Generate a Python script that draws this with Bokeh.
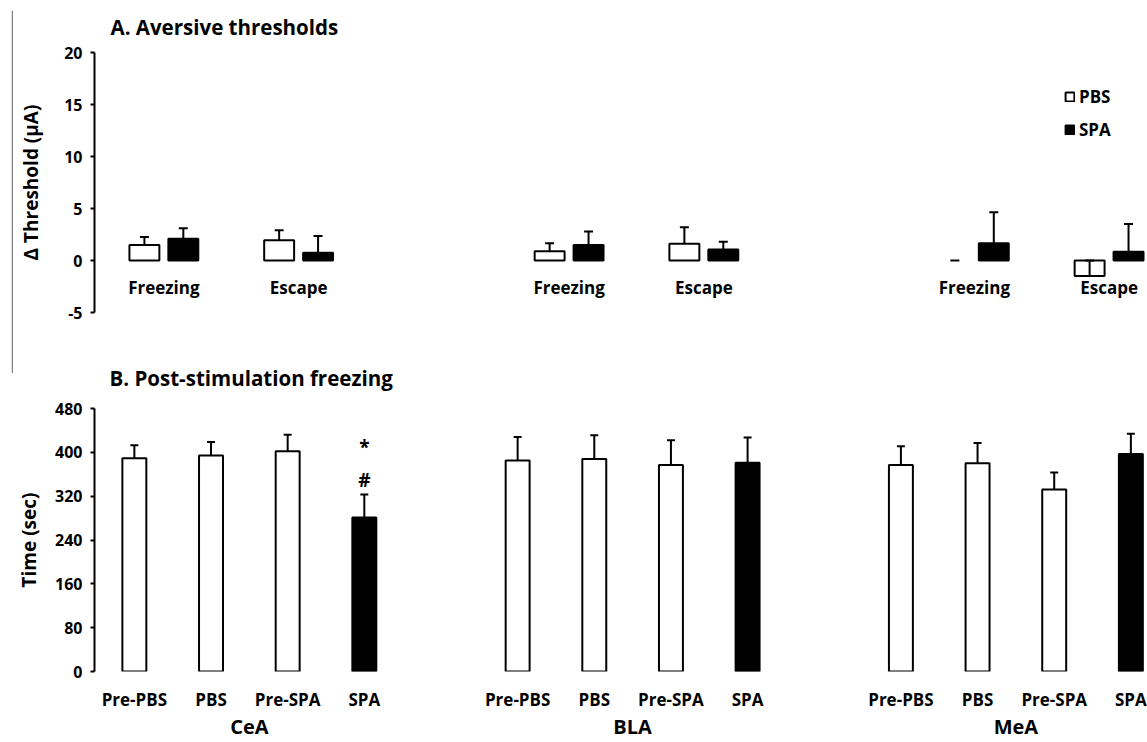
from bokeh.plotting import figure
from bokeh.models import (ColumnDataSource, Range1d, FixedTicker, Legend, LegendItem,
                          LinearAxis, Span)
from bokeh.layouts import column, row
from bokeh.core.properties import value
from bokeh.embed import file_html
from bokeh.resources import INLINE

# ---------------- data: panel A (aversive thresholds) ----------------
regions = ["CeA", "BLA", "MeA"]
measures = ["Freezing", "Escape"]
treatments = ["PBS", "SPA"]
# one row per region: [Freezing, Escape]
thr_pbs_mean = [[1.5, 1.95], [0.9, 1.6], [0.0, -1.5]]
thr_pbs_sem = [[0.75, 0.95], [0.75, 1.6], [0.0, 1.5]]
thr_spa_mean = [[2.1, 0.75], [1.5, 1.05], [1.65, 0.85]]
thr_spa_sem = [[1.0, 1.6], [1.3, 0.75], [3.0, 2.65]]
thr_ticks = [-5, 0, 5, 10, 15, 20]

# ---------------- data: panel B (post-stimulation freezing) ----------------
conditions = ["Pre-PBS", "PBS", "Pre-SPA", "SPA"]
frz_cea_mean = [389, 394, 402, 281]
frz_cea_sem = [24, 25, 30, 42]
frz_bla_mean = [385, 388, 377, 381]
frz_bla_sem = [43, 43, 45, 46]
frz_mea_mean = [377, 380, 332, 397]
frz_mea_sem = [34, 37, 31, 37]
time_ticks = [0, 80, 160, 240, 320, 400, 480]
sig_marks = ["#", "*"]          # drawn above CeA / SPA

title_a = "A. Aversive thresholds"
title_b = "B. Post-stimulation freezing"

# ---------------- layout / style constants ----------------
FONT = "Open Sans"
SPACER_W, SPACER_H, SPACER_TOP = 13, 373, 10
W = 1134
H_A, H_B = 346, 396
FRAME_LEFT = 79              # both panels share the same aligned frame edge

A_TOP, A_FRAME_H = 52, 260
A_BOTTOM = H_A - A_TOP - A_FRAME_H
STEP_REGION, STEP_MEASURE, STEP_TREAT = 406, 135, 39
A_X0 = -50
BAR_W_A, CAP_W_A = 30, 9
LABEL_Y_A = -2.6

B_TOP, B_FRAME_H = 62, 263
B_BOTTOM = H_B - B_TOP - B_FRAME_H
PX_PER_SLOT = 76.8
SLOTS_PER_REGION = 5
B_X0 = -0.52
BAR_W_B = 24 / PX_PER_SLOT
CAP_W_B = 8 / PX_PER_SLOT
SIG_OFFSETS = [26, 86]
FILL = {"PBS": "white", "SPA": "black", "Pre-PBS": "white", "Pre-SPA": "white"}


def style_axis(ax, tick_size):
    ax.axis_line_width = 2
    ax.axis_line_color = "black"
    ax.major_tick_line_width = 2
    ax.major_tick_line_color = "black"
    ax.major_tick_in = 0
    ax.major_tick_out = 4
    ax.minor_tick_line_color = None
    ax.major_label_text_font = FONT
    ax.major_label_text_font_style = "bold"
    ax.major_label_text_font_size = tick_size
    ax.major_label_text_color = "black"
    ax.axis_label_text_font = FONT
    ax.axis_label_text_font_style = "bold"
    ax.axis_label_text_font_size = "19px"
    ax.axis_label_text_color = "black"


def style_title(t, offset, standoff):
    t.text_font = FONT
    t.text_font_style = "bold"
    t.text_font_size = "20.5px"
    t.text_color = "black"
    t.align = "left"
    t.vertical_align = "middle"
    t.offset = offset
    t.standoff = standoff


# ======================= left border line =======================
spacer = figure(width=SPACER_W, height=SPACER_H, output_backend="svg", toolbar_location=None,
                x_range=Range1d(0, SPACER_W), y_range=Range1d(0, 1),
                min_border_left=0, min_border_right=0,
                min_border_top=SPACER_TOP, min_border_bottom=0)
spacer.axis.visible = False
spacer.grid.visible = False
spacer.outline_line_color = None
spacer.add_layout(Span(location=SPACER_W - 1, dimension="height",
                       line_color="#808080", line_width=1.5))

# ======================= Panel A =======================
pA = figure(width=W, height=H_A, output_backend="svg", toolbar_location=None,
            title=title_a,
            x_range=Range1d(A_X0, A_X0 + W - FRAME_LEFT), y_range=Range1d(-5, 20),
            min_border_left=FRAME_LEFT, min_border_top=A_TOP,
            min_border_bottom=A_BOTTOM, min_border_right=0)
style_title(pA.title, 16, 22)
pA.outline_line_color = None
pA.grid.visible = False
pA.xaxis.visible = False
style_axis(pA.yaxis[0], "16px")
pA.yaxis.ticker = FixedTicker(ticks=thr_ticks)
pA.yaxis.major_label_overrides = {t: str(t) for t in thr_ticks}
pA.yaxis.major_label_standoff = 8
pA.yaxis.axis_label = "Δ Threshold (μA)"
pA.yaxis.axis_label_standoff = 17

renderers_A = {}
err_x, err_lo, err_hi = [], [], []
for ti, (t, means, sems) in enumerate([("PBS", thr_pbs_mean, thr_pbs_sem),
                                        ("SPA", thr_spa_mean, thr_spa_sem)]):
    bx, btop = [], []
    for g, _ in enumerate(regions):
        for m, _ in enumerate(measures):
            x = g * STEP_REGION + m * STEP_MEASURE + ti * STEP_TREAT
            mu, se = means[g][m], sems[g][m]
            if mu != 0:
                bx.append(x)
                btop.append(mu)
            err_x.append(x)
            err_lo.append(mu)
            err_hi.append(mu + se)
    src = ColumnDataSource(dict(x=bx, top=btop))
    renderers_A[t] = pA.vbar(x="x", top="top", bottom=0, width=BAR_W_A, source=src,
                             fill_color=FILL[t], line_color="black", line_width=2)

errA = ColumnDataSource(dict(x=err_x, lo=err_lo, hi=err_hi,
                             cl=[x - CAP_W_A / 2 for x in err_x],
                             cr=[x + CAP_W_A / 2 for x in err_x]))
pA.segment(x0="x", y0="lo", x1="x", y1="hi", source=errA, line_color="black", line_width=2)
pA.segment(x0="cl", y0="hi", x1="cr", y1="hi", source=errA, line_color="black", line_width=2)

lab_x, lab_t = [], []
for g, _ in enumerate(regions):
    for m, name in enumerate(measures):
        lab_x.append(g * STEP_REGION + m * STEP_MEASURE + STEP_TREAT / 2)
        lab_t.append(name)
pA.text(x=lab_x, y=[LABEL_Y_A] * len(lab_x), text=lab_t, text_align="center",
        text_baseline="middle", text_font=value(FONT), text_font_style="bold",
        text_font_size="17px", text_color="black")

legend = Legend(items=[LegendItem(label=t, renderers=[renderers_A[t]]) for t in treatments],
                location=(970, 171), orientation="vertical",
                glyph_width=11, glyph_height=11, label_standoff=4, spacing=10,
                padding=0, margin=0, border_line_color=None, background_fill_alpha=0,
                label_text_font=FONT, label_text_font_style="bold",
                label_text_font_size="17px", label_text_color="black")
pA.add_layout(legend)

# ======================= Panel B =======================
pB = figure(width=W, height=H_B, output_backend="svg", toolbar_location=None,
            title=title_b,
            x_range=Range1d(B_X0, B_X0 + (W - FRAME_LEFT) / PX_PER_SLOT),
            y_range=Range1d(time_ticks[0], time_ticks[-1]),
            min_border_left=FRAME_LEFT, min_border_top=B_TOP,
            min_border_bottom=B_BOTTOM, min_border_right=0)
style_title(pB.title, 15, 32)
pB.outline_line_color = None
pB.grid.visible = False
style_axis(pB.yaxis[0], "16px")
pB.yaxis.ticker = FixedTicker(ticks=time_ticks)
pB.yaxis.major_label_standoff = 8
pB.yaxis.axis_label = "Time (sec)"
pB.yaxis.axis_label_standoff = 10

style_axis(pB.xaxis[0], "17px")
pB.xaxis.axis_line_color = None
pB.xaxis.major_tick_line_color = None
pB.xaxis.major_tick_out = 0
pB.xaxis.major_label_standoff = 16

means_B = [frz_cea_mean, frz_bla_mean, frz_mea_mean]
sems_B = [frz_cea_sem, frz_bla_sem, frz_mea_sem]
bx, btop, bse, bfill, tick_lab = [], [], [], [], {}
for g, _ in enumerate(regions):
    for c, cond in enumerate(conditions):
        x = g * SLOTS_PER_REGION + c
        bx.append(x)
        btop.append(means_B[g][c])
        bse.append(sems_B[g][c])
        bfill.append(FILL[cond])
        tick_lab[x] = cond
srcB = ColumnDataSource(dict(x=bx, top=btop, hi=[a + b for a, b in zip(btop, bse)],
                             fill=bfill,
                             cl=[x - CAP_W_B / 2 for x in bx],
                             cr=[x + CAP_W_B / 2 for x in bx]))
pB.vbar(x="x", top="top", bottom=0, width=BAR_W_B, source=srcB,
        fill_color="fill", line_color="black", line_width=2)
pB.segment(x0="x", y0="top", x1="x", y1="hi", source=srcB, line_color="black", line_width=2)
pB.segment(x0="cl", y0="hi", x1="cr", y1="hi", source=srcB, line_color="black", line_width=2)
pB.xaxis.ticker = FixedTicker(ticks=bx)
pB.xaxis.major_label_overrides = tick_lab

# region names as a second axis below the condition labels
grp_x = [g * SLOTS_PER_REGION + (len(conditions) - 1) / 2 for g in range(len(regions))]
grp_axis = LinearAxis(ticker=FixedTicker(ticks=grp_x),
                      major_label_overrides={x: r for x, r in zip(grp_x, regions)})
style_axis(grp_axis, "20px")
grp_axis.axis_line_color = None
grp_axis.major_tick_line_color = None
grp_axis.major_tick_out = 0
grp_axis.major_label_standoff = -1
pB.add_layout(grp_axis, "below")

# significance marks above CeA / SPA
k = conditions.index("SPA")
sx = 0 * SLOTS_PER_REGION + k
shi = frz_cea_mean[k] + frz_cea_sem[k]
pB.text(x=[sx] * len(sig_marks), y=[shi + o for o in SIG_OFFSETS], text=sig_marks,
        text_align="center", text_baseline="middle", text_font=value(FONT),
        text_font_style="bold", text_font_size="19px", text_color="black")

layout = row(spacer, column(pA, pB))
open("out.html", "w").write(file_html(layout, INLINE))
